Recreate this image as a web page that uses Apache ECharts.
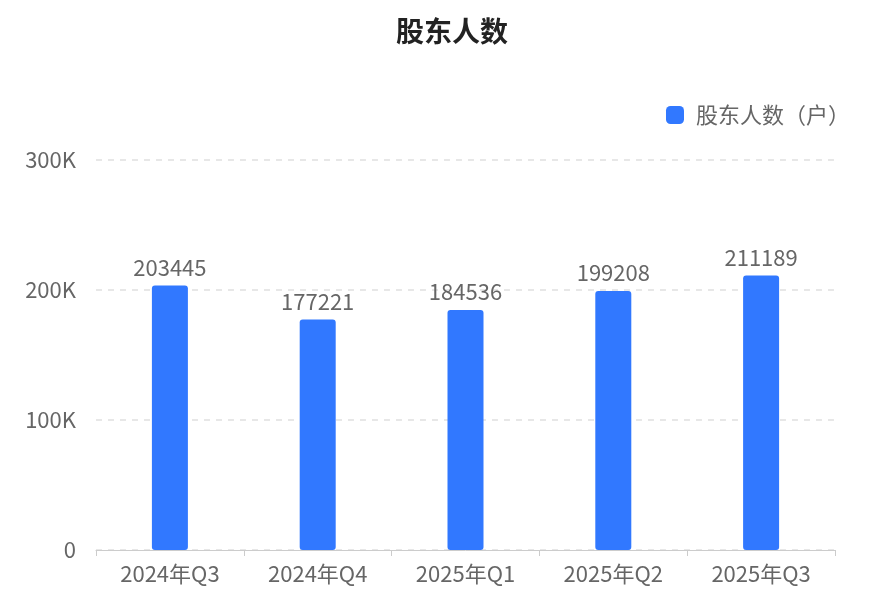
<!DOCTYPE html>
<html><head><meta charset="utf-8">
<script src="https://cdn.jsdelivr.net/npm/echarts@6/dist/echarts.min.js"></script>
<style>html,body{margin:0;padding:0;background:#fff}#c{width:886px;height:608px}</style>
</head><body><div id="c"></div>
<script>
const categories = ['2024年Q3','2024年Q4','2025年Q1','2025年Q2','2025年Q3'];
const holders = [203445, 177221, 184536, 199208, 211189];
const yTicks = [0, 100000, 200000, 300000];
const chart = echarts.init(document.getElementById('c'));
const font = '"Noto Sans CJK SC","Noto Sans",sans-serif';
chart.setOption({
  backgroundColor:'#fff',
  textStyle:{fontFamily:font},
  title:{text:'股东人数',left:391,top:12,textStyle:{fontSize:28,fontWeight:'bold',color:'#222',fontFamily:font}},
  legend:{right:31,top:99,itemWidth:18,itemHeight:18,itemGap:10,icon:'roundRect',
    textStyle:{fontSize:22,color:'#666',fontFamily:font,padding:[0,0,0,7]},data:['股东人数（户）']},
  grid:{left:96,right:51,top:160,bottom:58,containLabel:false},
  xAxis:{type:'category',data:categories,
    axisLine:{lineStyle:{color:'#ccc'}},axisTick:{show:true,length:6,lineStyle:{color:'#ccc'}},
    axisLabel:{fontSize:22,color:'#666',margin:13,fontFamily:font}},
  yAxis:{type:'value',min:yTicks[0],max:yTicks[yTicks.length-1],interval:100000,
    axisLabel:{fontSize:22,color:'#666',margin:20,fontFamily:font,formatter:v=>v===0?'0':(v/1000)+'K'},
    splitLine:{lineStyle:{color:'#e0e0e0',type:[6,6],width:1.5}},axisLine:{show:false},axisTick:{show:false}},
  series:[{name:'股东人数（户）',type:'bar',data:holders,barWidth:36,
    itemStyle:{color:'#3178ff',borderRadius:3},
    label:{show:true,position:'top',fontSize:22,color:'#666',distance:7,fontFamily:font}}]
});
</script></body></html>
